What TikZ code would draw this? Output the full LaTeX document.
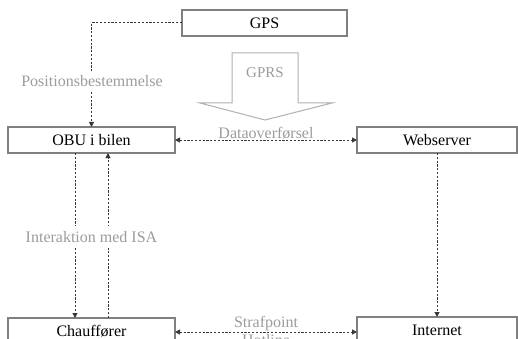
\documentclass[tikz,border=0pt]{standalone}
\usepackage{fontspec}
\setmainfont{Liberation Serif}
\usetikzlibrary{arrows.meta}
\definecolor{boxline}{HTML}{808080}
\definecolor{conn}{HTML}{383838}
\definecolor{lbl}{HTML}{9C9C9C}
\definecolor{gprsline}{HTML}{B0B0B0}
\tikzset{
  box/.style={draw=boxline, line width=1.2pt, fill=white, minimum height=26pt, inner sep=0pt, outer sep=0pt, font=\fontsize{16}{19}\selectfont},
  conn/.style={draw=conn, line width=1pt, dash pattern=on 2.2pt off 1.6pt},
  tip/.style={-{Triangle[length=5pt,width=5pt]}},
  tips/.style={{Triangle[length=5pt,width=5pt]}-{Triangle[length=5pt,width=5pt]}},
  lab/.style={text=lbl, font=\fontsize{16}{19}\selectfont, inner sep=1pt},
}
\begin{document}
\begin{tikzpicture}[x=1pt,y=-1pt]
\useasboundingbox (0,0) rectangle (518,339);
\clip (0,0) rectangle (518,339);
\fill[white] (0,0) rectangle (518,339);
% boxes
\node[box, minimum width=165pt] (gps) at (264.5,23) {GPS};
\node[box, minimum width=167pt] (obu) at (91.5,140) {OBU i bilen};
\node[box, minimum width=160pt] (web) at (437,140) {Webserver};
\node[box, minimum width=167pt] (chauf) at (91.5,331) {Chauffører};
\node[box, minimum width=160pt] (inet) at (437,330) {Internet};
\coordinate (lowy) at (0,332);
% GPRS arrow
\draw[gprsline, line width=1pt, fill=white]
  (232,53) -- (298,53) -- (298,103) -- (332,103) -- (265,120) -- (200,103) -- (232,103) -- cycle;
\node[text=lbl, font=\fontsize{15}{18}\selectfont] (gprs) at (265,73) {GPRS};
% connectors
\draw[conn, tip] (gps.west) -| (obu.north);
\node[lab, fill=white, inner ysep=4pt] (pos) at (92,81) {Positionsbestemmelse};
\draw[conn, tips] (obu.east) -- (web.west)
  node[lab, midway, above, inner sep=0.5pt] (data) {Dataoverførsel};
\draw[conn, tip] ([xshift=-16.5pt]obu.south) -- ([xshift=-16.5pt]chauf.north);
\draw[conn, tip] ([xshift=16.5pt]chauf.north) -- ([xshift=16.5pt]obu.south);
\node[lab, fill=white, inner ysep=5pt] (isa) at (91.5,237) {Interaktion med ISA};
\draw[conn, tip] (web.south) -- (inet.north);
\draw[conn, tips] (chauf.east |- lowy) -- (inet.west |- lowy)
  node[lab, midway, above, inner sep=1pt] (straf) {Strafpoint}
  node[lab, midway, below, inner sep=1pt, yshift=-1pt] (hot) {Hotline};
\end{tikzpicture}
\end{document}
